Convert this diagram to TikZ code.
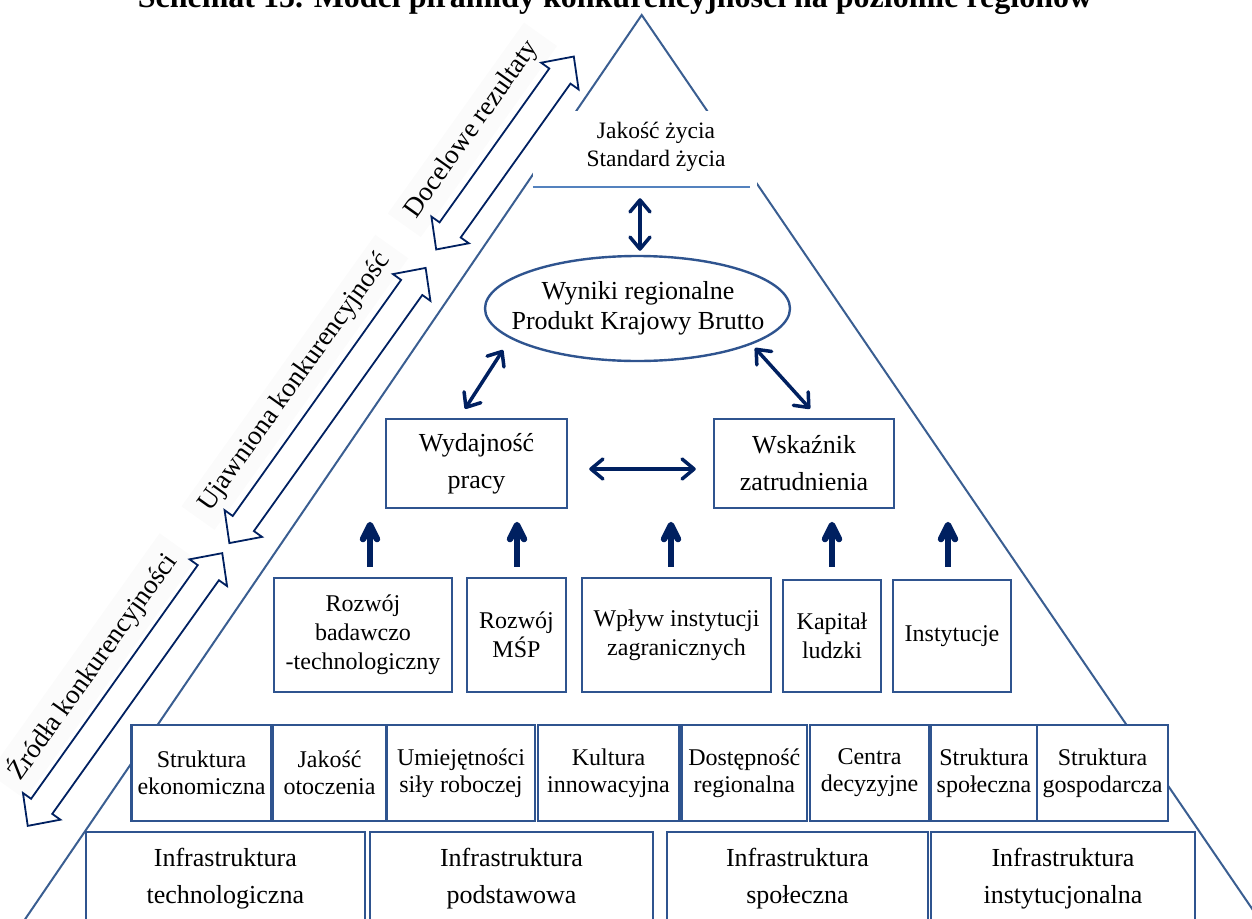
\documentclass[tikz,border=0pt]{standalone}
\usepackage{fontspec}
\setmainfont{Liberation Serif}
\usetikzlibrary{arrows.meta,shapes.geometric}
\definecolor{boxblue}{RGB}{47,84,143}
\definecolor{pyr}{RGB}{58,94,145}
\definecolor{navy}{RGB}{0,32,96}
\definecolor{lightline}{RGB}{84,130,190}
\begin{document}
\begin{tikzpicture}[x=1pt,y=-1pt,
  bx/.style={draw=boxblue,line width=2.4pt,fill=white,inner xsep=1pt,inner ysep=0pt,align=center},
  fA/.style={font=\fontsize{26}{37}\selectfont},
  fB/.style={font=\fontsize{24}{29}\selectfont},
  fC/.style={font=\fontsize{24}{27}\selectfont},
  pyrline/.style={draw=pyr,line width=2pt},
  hollow/.style={draw=navy,line width=1.8pt,line join=miter},
  band/.style={fill=black!1.5,inner xsep=12pt,inner ysep=8pt,font=\fontsize{27}{30}\selectfont,rotate=54.5},
  dbl/.style={draw=navy,line width=3.5pt,line cap=round,{Straight Barb[length=12pt,width=20pt,round]}-{Straight Barb[length=12pt,width=20pt,round]}},
  uparr/.style={draw=navy,line width=6.5pt,-{Straight Barb[length=14pt,width=14pt,round]}},
]
\useasboundingbox (0,0) rectangle (1252,918);
% title (cut at the top edge)
\node[font=\bfseries\fontsize{32}{38}\selectfont,anchor=base,inner sep=0pt] (title) at (615,8) {Schemat 15. Model piramidy konkurencyjności na poziomie regionów};
% pyramid
\coordinate (apex) at (641.7,15);
\coordinate (bl) at (17.7,930);
\coordinate (br) at (1266.6,930);
\draw[pyrline,line join=miter] (bl) -- (apex) -- (br);
% top text
\node[fill=white,minimum width=224pt,minimum height=76pt,inner sep=0pt] (jzbg) at (645,149) {};
\draw[draw=lightline,line width=1.6pt] (jzbg.south west) -- ([xshift=-7pt]jzbg.south east);
\node[font=\fontsize{23.5}{28}\selectfont,align=center] (jz) at (656,147) {Jakość życia\\Standard życia};
% side labels
\node[band] (l1) at (472.4,129.8) {Docelowe rezultaty};
\node[band] (l2) at (294.9,382.3) {Ujawniona konkurencyjność};
\node[band] (l3) at (92.4,666.3) {Źródła konkurencyjności};
% hollow double arrows
\draw[hollow,shift={(505,153)},rotate=54.5] (118.5,0) -- (94.5,23) -- (94.5,13) -- (-94.5,13) -- (-94.5,23) -- (-118.5,0) -- (-94.5,-23) -- (-94.5,-13) -- (94.5,-13) -- (94.5,-23) -- cycle;
\draw[hollow,shift={(327.5,405.5)},rotate=54.5] (169,0) -- (145,23) -- (145,13) -- (-145,13) -- (-145,23) -- (-169,0) -- (-145,-23) -- (-145,-13) -- (145,-13) -- (145,-23) -- cycle;
\draw[hollow,shift={(125,689.5)},rotate=54.5] (167.5,0) -- (143.5,23) -- (143.5,13) -- (-143.5,13) -- (-143.5,23) -- (-167.5,0) -- (-143.5,-23) -- (-143.5,-13) -- (143.5,-13) -- (143.5,-23) -- cycle;
% ellipse
\node[ellipse,draw=boxblue,line width=2.4pt,minimum width=305pt,minimum height=105pt,inner sep=0pt] (wyn) at (637.5,308.5) {};
\node[font=\fontsize{26}{30}\selectfont,align=center] (wyntxt) at (638,308) {Wyniki regionalne\\Produkt Krajowy Brutto};
% level 2
\node[bx,fA,minimum width=181pt,minimum height=89pt] (wyd) at (476.5,463.5) {Wydajność\\pracy};
\node[bx,fA,minimum width=180pt,minimum height=89pt] (wsk) at (804,463.5) {Wskaźnik\\zatrudnienia};
% level 3
\node[bx,fB,minimum width=178pt,minimum height=114pt] (rbt) at (363,635) {Rozwój\\badawczo\\-technologiczny};
\node[bx,fB,minimum width=99pt,minimum height=114pt] (msp) at (516.5,635) {Rozwój\\MŚP};
\node[bx,fB,minimum width=189pt,minimum height=114pt] (wpl) at (676.5,635) {Wpływ instytucji\\zagranicznych};
\node[bx,fB,minimum width=98pt,minimum height=112pt] (kap) at (832,636) {Kapitał\\ludzki};
\node[bx,fB,minimum width=118pt,minimum height=112pt] (ins) at (952,636) {Instytucje};
% level 4
\node[bx,fC,minimum width=139.7pt,minimum height=96pt] (s1) at (201.5,773) {Struktura\\ekonomiczna};
\node[bx,fC,minimum width=113pt,minimum height=96pt] (s2) at (329.5,773) {Jakość\\otoczenia};
\node[bx,fC,minimum width=148pt,minimum height=96pt] (s3) at (461,773) {Umiejętności\\siły roboczej};
\node[bx,fC,minimum width=141pt,minimum height=96pt] (s4) at (608.5,773) {Kultura\\innowacyjna};
\node[bx,fC,minimum width=125.5pt,minimum height=96pt] (s5) at (744.25,773) {Dostępność\\regionalna};
\node[bx,fC,minimum width=119pt,minimum height=96pt] (s6) at (869.5,773) {Centra\\decyzyjne};
\node[bx,fC,minimum width=106pt,minimum height=96pt] (s7) at (984,773) {Struktura\\społeczna};
\node[bx,fC,minimum width=131pt,minimum height=96pt] (s8) at (1102.5,773) {Struktura\\gospodarcza};
% level 5
\node[bx,fA,minimum width=279.3pt,minimum height=93pt] (i1) at (225.35,878.5) {Infrastruktura\\technologiczna};
\node[bx,fA,minimum width=283pt,minimum height=93pt] (i2) at (511.5,878.5) {Infrastruktura\\podstawowa};
\node[bx,fA,minimum width=261pt,minimum height=93pt] (i3) at (797.5,878.5) {Infrastruktura\\społeczna};
\node[bx,fA,minimum width=264pt,minimum height=93pt] (i4) at (1063,878.5) {Infrastruktura\\instytucjonalna};
% connectors
\draw[dbl,shorten <=11pt,shorten >=4pt] ([xshift=2.5pt]wyn.north |- jzbg.south) -- ([xshift=2.5pt]wyn.north);
\draw[dbl] ([shift={(-134.5,41.5)}]wyn.center) -- ([shift={(-11.5,-9)}]wyd.north);
\draw[dbl] ([shift={(117.5,39.5)}]wyn.center) -- ([shift={(6,-9)}]wsk.north);
\draw[dbl,shorten <=21pt,shorten >=17pt] ([yshift=-5.5pt]wyd.east) -- ([yshift=-5.5pt]wsk.west);
\draw[uparr] ([shift={(7,-10)}]rbt.north) -- ++(0,-45);
\draw[uparr] ([shift={(0.5,-10)}]msp.north) -- ++(0,-45);
\draw[uparr] ([shift={(-5.5,-10)}]wpl.north) -- ++(0,-45);
\draw[uparr] ([shift={(0,-12)}]kap.north) -- ++(0,-45);
\draw[uparr] ([shift={(-4,-12)}]ins.north) -- ++(0,-45);
\end{tikzpicture}
\end{document}
